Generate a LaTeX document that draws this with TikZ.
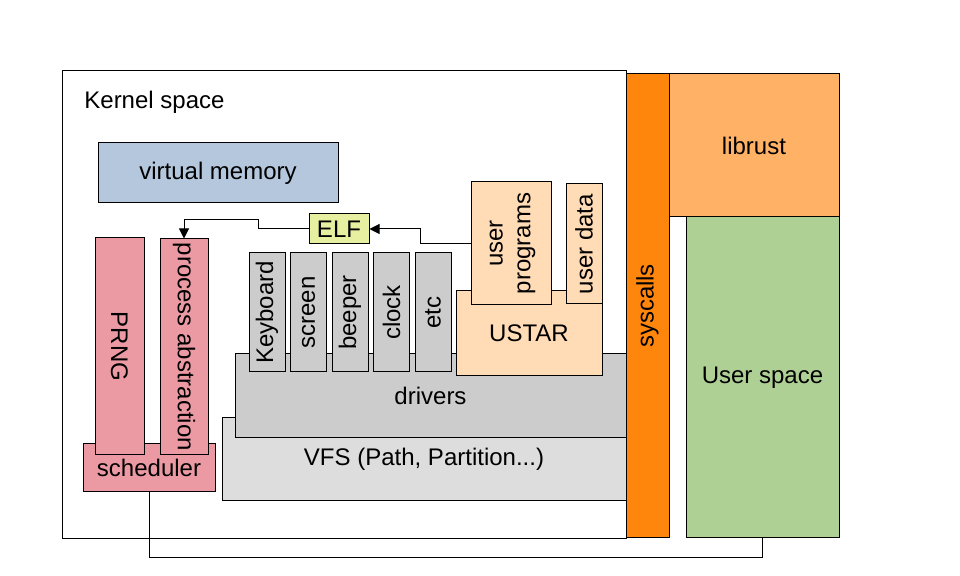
\documentclass[tikz,border=0pt]{standalone}
\usepackage{fontspec}
\setmainfont{Liberation Sans}
\usepackage{graphicx}
\usetikzlibrary{arrows.meta}

\definecolor{vmemblue}{RGB}{180,199,220}
\definecolor{elfgreen}{RGB}{230,240,160}
\definecolor{peach}{RGB}{255,219,182}
\definecolor{drvgray}{RGB}{204,204,204}
\definecolor{vfsgray}{RGB}{221,221,221}
\definecolor{schedpink}{RGB}{235,154,164}
\definecolor{sysorange}{RGB}{255,134,13}
\definecolor{rustorange}{RGB}{255,178,102}
\definecolor{usergreen}{RGB}{175,208,149}

\begin{document}
\begin{tikzpicture}[x=0.5pt, y=-0.5pt,
	block/.style={draw, line width=0.5pt, inner sep=0pt, font=\fontsize{12}{13.8}\selectfont},
	link/.style={line width=0.5pt},
	tips/.style={-{Triangle[length=5pt, width=5pt]}}]

\path [use as bounding box] (0,0) rectangle (960,576);

% KERNEL
\node [block, minimum width=282pt, minimum height=234pt] (kernel) at (344,305) {};
\node [anchor=west, inner sep=0pt, font=\fontsize{12}{13.8}\selectfont] (klabel) at (84,102) {Kernel space};
\node [block, fill=vmemblue, minimum width=120pt, minimum height=30pt] (vmem) at (218,173) {virtual memory};

% FILESYSTEM
\node [block, fill=vfsgray, minimum width=202pt, minimum height=41.5pt] (vfs) at (424,459.5) {VFS (Path, Partition...)};
\node [block, fill=drvgray, minimum width=195.5pt, minimum height=42pt] (drivers) at (430.5,396) {drivers};
\node [block, fill=peach, minimum width=73pt, minimum height=42.5pt] (ustar) at (529,333.5) {USTAR};
\node [block, fill=peach, minimum width=40pt, minimum height=61.5pt] (uprog) at (511,243.5)
	{\rotatebox{90}{\begin{tabular}{@{}c@{}}user\\programs\end{tabular}}};
\node [block, fill=peach, minimum width=18pt, minimum height=60pt] (udata) at (584,244) {\rotatebox{90}{user data}};

% DRIVERS
\foreach \drv [count=\i] in {Keyboard,screen,beeper,clock,etc}
	\node [block, fill=drvgray, minimum width=18pt, minimum height=59.5pt] (drv\i) at ({267+41.5*(\i-1)},312.5) {\rotatebox{90}{\drv}};

% SCHEDULER
\node [block, fill=schedpink, minimum width=66pt, minimum height=24pt] (sched) at (149,468) {scheduler};
\node [block, fill=schedpink, minimum width=24.5pt, minimum height=108.5pt] (prng) at (119.5,346.5) {\rotatebox{-90}{PRNG}};
\node [block, fill=schedpink, minimum width=24pt, minimum height=108pt] (proc) at (184,347) {\rotatebox{-90}{process abstraction}};
\node [block, fill=elfgreen, minimum width=30pt, minimum height=15pt] (elf) at (339,229) {ELF};

% USER SIDE
\node [block, fill=sysorange, minimum width=21.5pt, minimum height=232pt] (syscalls) at (647.5,306) {\rotatebox{90}{syscalls}};
\node [block, fill=rustorange, minimum width=85pt, minimum height=71.5pt] (librust) at (754,145.5) {librust};
\node [block, fill=usergreen, minimum width=76.5pt, minimum height=160.5pt] (user) at (762.5,377.5) {User space};

% LINKS
\draw [link, tips] (uprog.west) -- ++(-50,0) |- (elf.east);
\draw [link, tips] (elf.west) -- ++(-50,0) -- ++(0,-9) -| (proc.north);
\draw [link] (sched.south) -- ++(0,65) -| (user.south);

\end{tikzpicture}
\end{document}
